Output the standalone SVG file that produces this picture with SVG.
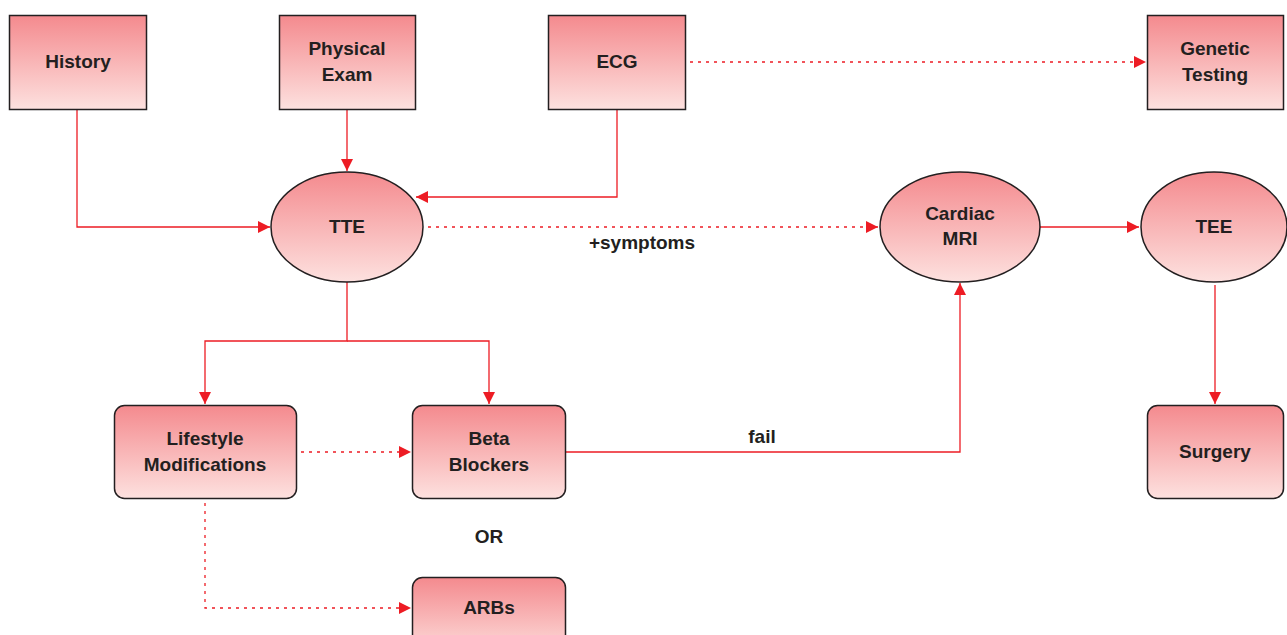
<svg xmlns="http://www.w3.org/2000/svg" width="1287" height="635" viewBox="0 0 1287 635">
<style>
.n{stroke:#231f20;stroke-width:1.5;fill:url(#g)}
.t{font-family:"Liberation Sans",Arial,sans-serif;font-weight:bold;font-size:19px;fill:#231f20;text-anchor:middle}
.c{fill:none;stroke:#ed1c24;stroke-width:1.3}
.d{stroke-dasharray:3 5}
</style>
<defs>
<linearGradient id="g" x1="0" y1="0" x2="0" y2="1">
<stop offset="0" stop-color="#f48a8e"/>
<stop offset="1" stop-color="#fde1df"/>
</linearGradient>
<marker id="a" viewBox="0 0 10 10" refX="10" refY="5" markerWidth="12" markerHeight="12" markerUnits="userSpaceOnUse" orient="auto">
<path d="M0,0 L10,5 L0,10 Z" fill="#ed1c24"/>
</marker>
</defs>
<g id="connectors">
<path class="c" d="M77,109 V227 H270" marker-end="url(#a)"/>
<path class="c" d="M347,109 V171" marker-end="url(#a)"/>
<path class="c" d="M617,109 V197 H416" marker-end="url(#a)"/>
<path class="c d" d="M690,62 H1146" marker-end="url(#a)"/>
<path class="c d" d="M428,227 H878" marker-end="url(#a)"/>
<path class="c" d="M347,282 V341 H205 V404" marker-end="url(#a)"/>
<path class="c" d="M347,341 H489 V404" marker-end="url(#a)"/>
<path class="c d" d="M301,452 H411" marker-end="url(#a)"/>
<path class="c d" d="M205,503 V608 H411" marker-end="url(#a)"/>
<path class="c" d="M566,452 H960 V283" marker-end="url(#a)"/>
<path class="c" d="M1040,227 H1139" marker-end="url(#a)"/>
<path class="c" d="M1215,285 V404" marker-end="url(#a)"/>
<text class="t" x="642" y="249">+symptoms</text>
<text class="t" x="762" y="443">fail</text>
<text class="t" x="489" y="543">OR</text>
</g>
<g id="history"><rect class="n" x="9.5" y="15.5" width="137" height="94"/><text class="t" x="78" y="68">History</text></g>
<g id="physical"><rect class="n" x="279.5" y="15.5" width="136" height="94"/><text class="t" x="347" y="55">Physical</text><text class="t" x="347" y="81">Exam</text></g>
<g id="ecg"><rect class="n" x="548.5" y="15.5" width="137" height="94"/><text class="t" x="617" y="68">ECG</text></g>
<g id="genetic"><rect class="n" x="1147.5" y="15.5" width="136" height="94"/><text class="t" x="1215" y="55">Genetic</text><text class="t" x="1215" y="81">Testing</text></g>
<g id="tte"><ellipse class="n" cx="347" cy="227" rx="76" ry="55"/><text class="t" x="347" y="233">TTE</text></g>
<g id="mri"><ellipse class="n" cx="960" cy="227" rx="80" ry="55"/><text class="t" x="960" y="220">Cardiac</text><text class="t" x="960" y="245">MRI</text></g>
<g id="tee"><ellipse class="n" cx="1214" cy="227" rx="73" ry="55"/><text class="t" x="1214" y="233">TEE</text></g>
<g id="lifestyle"><rect class="n" x="114.5" y="405.5" width="182" height="93" rx="10"/><text class="t" x="205" y="445">Lifestyle</text><text class="t" x="205" y="471">Modifications</text></g>
<g id="beta"><rect class="n" x="412.5" y="405.5" width="153" height="93" rx="10"/><text class="t" x="489" y="445">Beta</text><text class="t" x="489" y="471">Blockers</text></g>
<g id="arbs"><rect class="n" x="412.5" y="577.5" width="153" height="80" rx="10"/><text class="t" x="489" y="614">ARBs</text></g>
<g id="surgery"><rect class="n" x="1147.5" y="405.5" width="136" height="93" rx="10"/><text class="t" x="1215" y="458">Surgery</text></g>
</svg>
